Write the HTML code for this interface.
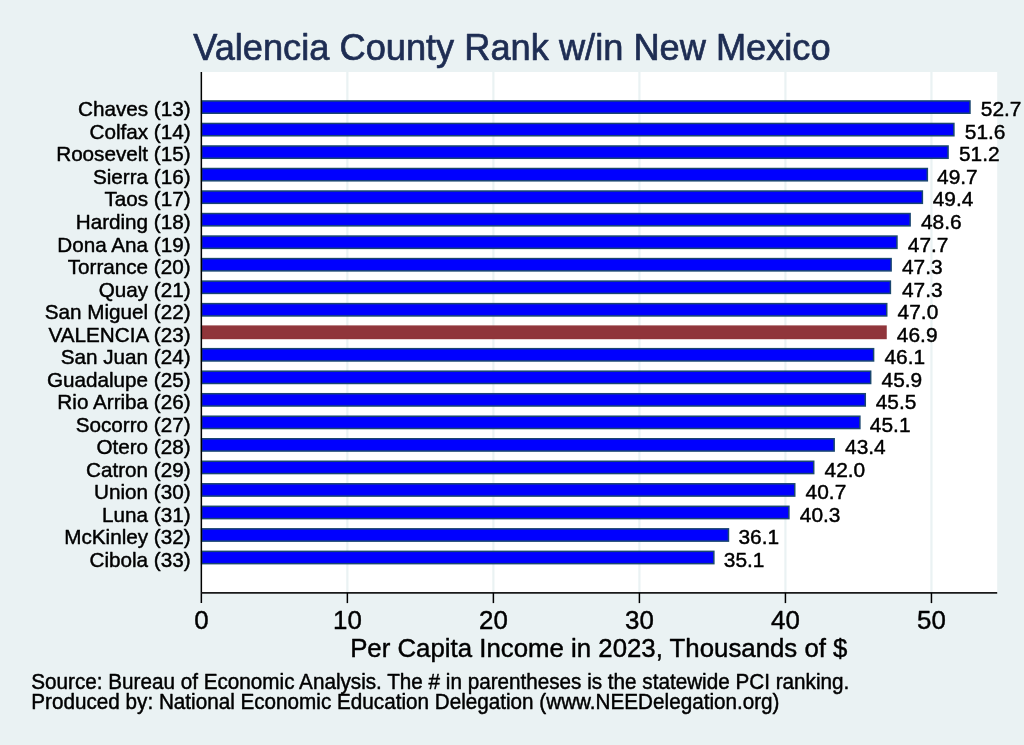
<!DOCTYPE html>
<html><head><meta charset="utf-8"><title>Valencia County Rank w/in New Mexico</title>
<style>
html,body{margin:0;padding:0;background:#eaf2f3;}
body{width:1024px;height:745px;overflow:hidden;}
svg{display:block;}
text{font-family:"Liberation Sans",Arial,Helvetica,sans-serif;stroke-linejoin:round;}
</style></head><body>
<svg width="1024" height="745" viewBox="0 0 1024 745">
<rect x="0" y="0" width="1024" height="745" fill="#eaf2f3"/>
<rect x="201.35" y="72.0" width="795.85" height="520.90" fill="#ffffff"/>
<line x1="347.37" y1="72.0" x2="347.37" y2="592.9" stroke="#eaf2f3" stroke-width="2.2"/>
<line x1="493.39" y1="72.0" x2="493.39" y2="592.9" stroke="#eaf2f3" stroke-width="2.2"/>
<line x1="639.41" y1="72.0" x2="639.41" y2="592.9" stroke="#eaf2f3" stroke-width="2.2"/>
<line x1="785.43" y1="72.0" x2="785.43" y2="592.9" stroke="#eaf2f3" stroke-width="2.2"/>
<line x1="931.45" y1="72.0" x2="931.45" y2="592.9" stroke="#eaf2f3" stroke-width="2.2"/>
<rect x="201.65" y="100.95" width="768.33" height="12.30" fill="#0000ff" stroke="#1a476f" stroke-width="1.5"/>
<text transform="translate(190.60,116.00) scale(1,1.02)" font-size="20.69" text-anchor="end" fill="#000" stroke="#000" stroke-width="0.45">Chaves (13)</text>
<text transform="translate(980.83,116.00) scale(1,1.0)" font-size="20.9" fill="#000" stroke="#000" stroke-width="0.45">52.7</text>
<rect x="201.65" y="123.47" width="752.26" height="12.30" fill="#0000ff" stroke="#1a476f" stroke-width="1.5"/>
<text transform="translate(190.60,139.00) scale(1,1.02)" font-size="20.69" text-anchor="end" fill="#000" stroke="#000" stroke-width="0.45">Colfax (14)</text>
<text transform="translate(964.76,139.00) scale(1,1.0)" font-size="20.9" fill="#000" stroke="#000" stroke-width="0.45">51.6</text>
<rect x="201.65" y="145.99" width="746.42" height="12.30" fill="#0000ff" stroke="#1a476f" stroke-width="1.5"/>
<text transform="translate(190.60,161.00) scale(1,1.02)" font-size="20.69" text-anchor="end" fill="#000" stroke="#000" stroke-width="0.45">Roosevelt (15)</text>
<text transform="translate(958.92,161.00) scale(1,1.0)" font-size="20.9" fill="#000" stroke="#000" stroke-width="0.45">51.2</text>
<rect x="201.65" y="168.51" width="725.69" height="12.30" fill="#0000ff" stroke="#1a476f" stroke-width="1.5"/>
<text transform="translate(190.60,184.00) scale(1,1.02)" font-size="20.69" text-anchor="end" fill="#000" stroke="#000" stroke-width="0.45">Sierra (16)</text>
<text transform="translate(937.02,184.00) scale(1,1.0)" font-size="20.9" fill="#000" stroke="#000" stroke-width="0.45">49.7</text>
<rect x="201.65" y="191.03" width="720.72" height="12.30" fill="#0000ff" stroke="#1a476f" stroke-width="1.5"/>
<text transform="translate(190.60,206.00) scale(1,1.02)" font-size="20.69" text-anchor="end" fill="#000" stroke="#000" stroke-width="0.45">Taos (17)</text>
<text transform="translate(932.64,206.00) scale(1,1.0)" font-size="20.9" fill="#000" stroke="#000" stroke-width="0.45">49.4</text>
<rect x="201.65" y="213.55" width="708.46" height="12.30" fill="#0000ff" stroke="#1a476f" stroke-width="1.5"/>
<text transform="translate(190.60,229.00) scale(1,1.02)" font-size="20.69" text-anchor="end" fill="#000" stroke="#000" stroke-width="0.45">Harding (18)</text>
<text transform="translate(920.96,229.00) scale(1,1.0)" font-size="20.9" fill="#000" stroke="#000" stroke-width="0.45">48.6</text>
<rect x="201.65" y="236.07" width="695.32" height="12.30" fill="#0000ff" stroke="#1a476f" stroke-width="1.5"/>
<text transform="translate(190.60,252.00) scale(1,1.02)" font-size="20.69" text-anchor="end" fill="#000" stroke="#000" stroke-width="0.45">Dona Ana (19)</text>
<text transform="translate(907.82,252.00) scale(1,1.0)" font-size="20.9" fill="#000" stroke="#000" stroke-width="0.45">47.7</text>
<rect x="201.65" y="258.59" width="689.47" height="12.30" fill="#0000ff" stroke="#1a476f" stroke-width="1.5"/>
<text transform="translate(190.60,274.00) scale(1,1.02)" font-size="20.69" text-anchor="end" fill="#000" stroke="#000" stroke-width="0.45">Torrance (20)</text>
<text transform="translate(901.97,274.00) scale(1,1.0)" font-size="20.9" fill="#000" stroke="#000" stroke-width="0.45">47.3</text>
<rect x="201.65" y="281.11" width="688.74" height="12.30" fill="#0000ff" stroke="#1a476f" stroke-width="1.5"/>
<text transform="translate(190.60,297.00) scale(1,1.02)" font-size="20.69" text-anchor="end" fill="#000" stroke="#000" stroke-width="0.45">Quay (21)</text>
<text transform="translate(901.97,297.00) scale(1,1.0)" font-size="20.9" fill="#000" stroke="#000" stroke-width="0.45">47.3</text>
<rect x="201.65" y="303.63" width="685.09" height="12.30" fill="#0000ff" stroke="#1a476f" stroke-width="1.5"/>
<text transform="translate(190.60,319.00) scale(1,1.02)" font-size="20.69" text-anchor="end" fill="#000" stroke="#000" stroke-width="0.45">San Miguel (22)</text>
<text transform="translate(897.59,319.00) scale(1,1.0)" font-size="20.9" fill="#000" stroke="#000" stroke-width="0.45">47.0</text>
<rect x="201.65" y="326.15" width="684.36" height="12.30" fill="#90353b" stroke="#90353b" stroke-width="1.5"/>
<text transform="translate(190.60,342.00) scale(1,1.02)" font-size="20.69" text-anchor="end" fill="#000" stroke="#000" stroke-width="0.45">VALENCIA (23)</text>
<text transform="translate(896.86,342.00) scale(1,1.0)" font-size="20.9" fill="#000" stroke="#000" stroke-width="0.45">46.9</text>
<rect x="201.65" y="348.67" width="671.95" height="12.30" fill="#0000ff" stroke="#1a476f" stroke-width="1.5"/>
<text transform="translate(190.60,364.00) scale(1,1.02)" font-size="20.69" text-anchor="end" fill="#000" stroke="#000" stroke-width="0.45">San Juan (24)</text>
<text transform="translate(884.45,364.00) scale(1,1.0)" font-size="20.9" fill="#000" stroke="#000" stroke-width="0.45">46.1</text>
<rect x="201.65" y="371.19" width="669.03" height="12.30" fill="#0000ff" stroke="#1a476f" stroke-width="1.5"/>
<text transform="translate(190.60,387.00) scale(1,1.02)" font-size="20.69" text-anchor="end" fill="#000" stroke="#000" stroke-width="0.45">Guadalupe (25)</text>
<text transform="translate(881.53,387.00) scale(1,1.0)" font-size="20.9" fill="#000" stroke="#000" stroke-width="0.45">45.9</text>
<rect x="201.65" y="393.71" width="663.63" height="12.30" fill="#0000ff" stroke="#1a476f" stroke-width="1.5"/>
<text transform="translate(190.60,409.00) scale(1,1.02)" font-size="20.69" text-anchor="end" fill="#000" stroke="#000" stroke-width="0.45">Rio Arriba (26)</text>
<text transform="translate(875.69,409.00) scale(1,1.0)" font-size="20.9" fill="#000" stroke="#000" stroke-width="0.45">45.5</text>
<rect x="201.65" y="416.23" width="658.23" height="12.30" fill="#0000ff" stroke="#1a476f" stroke-width="1.5"/>
<text transform="translate(190.60,432.00) scale(1,1.02)" font-size="20.69" text-anchor="end" fill="#000" stroke="#000" stroke-width="0.45">Socorro (27)</text>
<text transform="translate(869.85,432.00) scale(1,1.0)" font-size="20.9" fill="#000" stroke="#000" stroke-width="0.45">45.1</text>
<rect x="201.65" y="438.75" width="632.53" height="12.30" fill="#0000ff" stroke="#1a476f" stroke-width="1.5"/>
<text transform="translate(190.60,454.00) scale(1,1.02)" font-size="20.69" text-anchor="end" fill="#000" stroke="#000" stroke-width="0.45">Otero (28)</text>
<text transform="translate(845.03,454.00) scale(1,1.0)" font-size="20.9" fill="#000" stroke="#000" stroke-width="0.45">43.4</text>
<rect x="201.65" y="461.27" width="612.08" height="12.30" fill="#0000ff" stroke="#1a476f" stroke-width="1.5"/>
<text transform="translate(190.60,477.00) scale(1,1.02)" font-size="20.69" text-anchor="end" fill="#000" stroke="#000" stroke-width="0.45">Catron (29)</text>
<text transform="translate(824.58,477.00) scale(1,1.0)" font-size="20.9" fill="#000" stroke="#000" stroke-width="0.45">42.0</text>
<rect x="201.65" y="483.79" width="593.10" height="12.30" fill="#0000ff" stroke="#1a476f" stroke-width="1.5"/>
<text transform="translate(190.60,499.00) scale(1,1.02)" font-size="20.69" text-anchor="end" fill="#000" stroke="#000" stroke-width="0.45">Union (30)</text>
<text transform="translate(805.60,499.00) scale(1,1.0)" font-size="20.9" fill="#000" stroke="#000" stroke-width="0.45">40.7</text>
<rect x="201.65" y="506.31" width="587.26" height="12.30" fill="#0000ff" stroke="#1a476f" stroke-width="1.5"/>
<text transform="translate(190.60,522.00) scale(1,1.02)" font-size="20.69" text-anchor="end" fill="#000" stroke="#000" stroke-width="0.45">Luna (31)</text>
<text transform="translate(799.76,522.00) scale(1,1.0)" font-size="20.9" fill="#000" stroke="#000" stroke-width="0.45">40.3</text>
<rect x="201.65" y="528.83" width="526.81" height="12.30" fill="#0000ff" stroke="#1a476f" stroke-width="1.5"/>
<text transform="translate(190.60,544.00) scale(1,1.02)" font-size="20.69" text-anchor="end" fill="#000" stroke="#000" stroke-width="0.45">McKinley (32)</text>
<text transform="translate(738.43,544.00) scale(1,1.0)" font-size="20.9" fill="#000" stroke="#000" stroke-width="0.45">36.1</text>
<rect x="201.65" y="551.35" width="512.21" height="12.30" fill="#0000ff" stroke="#1a476f" stroke-width="1.5"/>
<text transform="translate(190.60,567.00) scale(1,1.02)" font-size="20.69" text-anchor="end" fill="#000" stroke="#000" stroke-width="0.45">Cibola (33)</text>
<text transform="translate(723.83,567.00) scale(1,1.0)" font-size="20.9" fill="#000" stroke="#000" stroke-width="0.45">35.1</text>
<line x1="201.35" y1="72.0" x2="201.35" y2="603.1" stroke="#000" stroke-width="1.5"/>
<line x1="201.35" y1="592.9" x2="997.2" y2="592.9" stroke="#1a1a1a" stroke-width="1.7"/>
<line x1="347.37" y1="592.9" x2="347.37" y2="603.1" stroke="#000" stroke-width="1.5"/>
<line x1="493.39" y1="592.9" x2="493.39" y2="603.1" stroke="#000" stroke-width="1.5"/>
<line x1="639.41" y1="592.9" x2="639.41" y2="603.1" stroke="#000" stroke-width="1.5"/>
<line x1="785.43" y1="592.9" x2="785.43" y2="603.1" stroke="#000" stroke-width="1.5"/>
<line x1="931.45" y1="592.9" x2="931.45" y2="603.1" stroke="#000" stroke-width="1.5"/>
<text transform="translate(201.35,629.20) scale(1,1.0)" font-size="25.87" text-anchor="middle" fill="#000" stroke="#000" stroke-width="0.45">0</text>
<text transform="translate(347.37,629.20) scale(1,1.0)" font-size="25.87" text-anchor="middle" fill="#000" stroke="#000" stroke-width="0.45">10</text>
<text transform="translate(493.39,629.20) scale(1,1.0)" font-size="25.87" text-anchor="middle" fill="#000" stroke="#000" stroke-width="0.45">20</text>
<text transform="translate(639.41,629.20) scale(1,1.0)" font-size="25.87" text-anchor="middle" fill="#000" stroke="#000" stroke-width="0.45">30</text>
<text transform="translate(785.43,629.20) scale(1,1.0)" font-size="25.87" text-anchor="middle" fill="#000" stroke="#000" stroke-width="0.45">40</text>
<text transform="translate(931.45,629.20) scale(1,1.0)" font-size="25.87" text-anchor="middle" fill="#000" stroke="#000" stroke-width="0.45">50</text>
<text transform="translate(598.80,656.90) scale(1,1.015)" font-size="25.82" text-anchor="middle" fill="#000" stroke="#000" stroke-width="0.45">Per Capita Income in 2023, Thousands of $</text>
<text transform="translate(511.90,60.40) scale(1,1.0)" font-size="36.22" text-anchor="middle" fill="#1e2d53" stroke="#1e2d53" stroke-width="0.7">Valencia County Rank w/in New Mexico</text>
<text transform="translate(31.30,689.00) scale(1,1.04)" font-size="20.69" fill="#000" stroke="#000" stroke-width="0.45">Source: Bureau of Economic Analysis. The # in parentheses is the statewide PCI ranking.</text>
<text transform="translate(31.30,708.50) scale(1,1.04)" font-size="20.69" fill="#000" stroke="#000" stroke-width="0.45">Produced by: National Economic Education Delegation (www.NEEDelegation.org)</text>
</svg>
</body></html>
